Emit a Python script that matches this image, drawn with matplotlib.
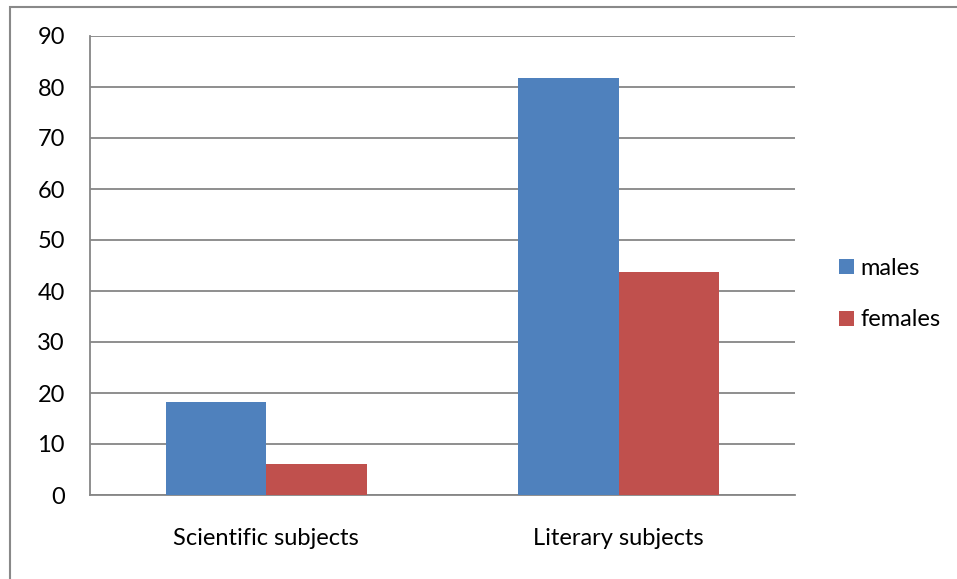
import matplotlib.pyplot as plt
from matplotlib.patches import Rectangle
import numpy as np

# share of students preferring each subject group, by sex
categories = ['Scientific subjects', 'Literary subjects']
males = [18.2, 81.8]
females = [6.1, 43.7]
y_ticks = [0, 10, 20, 30, 40, 50, 60, 70, 80, 90]

plt.rcParams['font.family'] = ['Lato', 'DejaVu Sans']

fig = plt.figure(figsize=(9.57, 5.79), dpi=100)
ax = fig.add_axes([90 / 957, 1 - 495 / 579, 705 / 957, 459 / 579])

x = np.arange(len(categories))
width = 1 / 3.5  # two bars plus a 150% gap per category

ax.bar(x - width / 2, males, width, color='#4F81BD', label='males', zorder=3)
ax.bar(x + width / 2, females, width, color='#C0504D', label='females', zorder=3)

ax.set_xlim(-0.5, len(categories) - 0.5)
ax.set_ylim(0, 90)
ax.set_yticks(y_ticks)
ax.set_xticks(x)
ax.set_xticklabels(categories)

# horizontal gridlines only, no frame on top/right
ax.grid(axis='y', color='#868686', linewidth=1.3, zorder=0)
for side in ['top', 'right']:
    ax.spines[side].set_visible(False)
for side in ['left', 'bottom']:
    ax.spines[side].set_color('#868686')
    ax.spines[side].set_linewidth(1.3)

ax.tick_params(axis='y', length=0, pad=18, labelsize=17)
ax.tick_params(axis='x', length=0, pad=24, labelsize=17)

ax.legend(loc='center left', bbox_to_anchor=(830 / 957, 1 - 294 / 579),
          bbox_transform=fig.transFigure, frameon=False, fontsize=17,
          handlelength=0.6, handleheight=0.6, handletextpad=0.3,
          labelspacing=1.3, borderaxespad=0)

# chart area border
fig.patches.append(Rectangle((10 / 957, -0.1), 1.2, 1.1 - 7 / 579,
                             transform=fig.transFigure, fill=False,
                             edgecolor='#898989', linewidth=1.5))

fig.savefig('out.png', dpi=100)
